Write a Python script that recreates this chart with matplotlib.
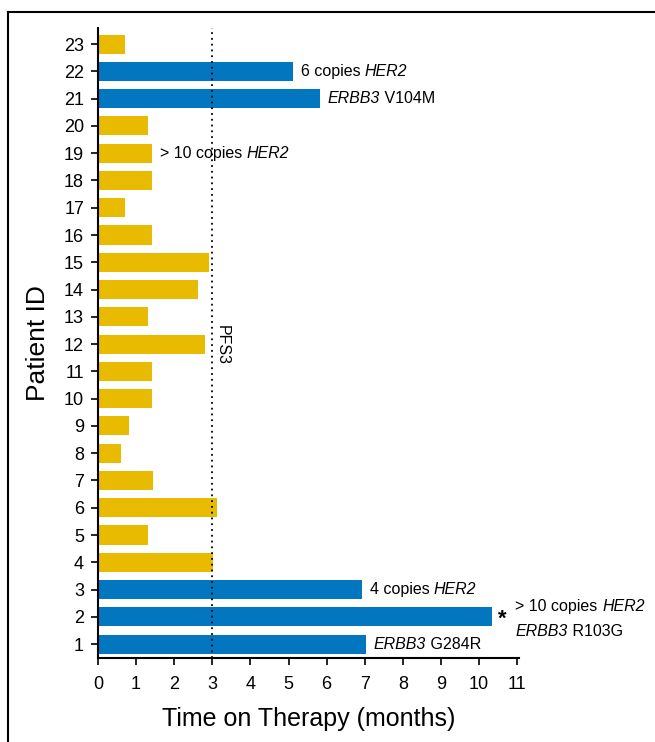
import matplotlib
matplotlib.use("Agg")
import matplotlib.pyplot as plt
from matplotlib.lines import Line2D
from matplotlib.transforms import offset_copy

plt.rcParams["font.family"] = ["Liberation Sans", "DejaVu Sans"]

patients = list(range(1, 24))
months = [7.03, 10.35, 6.93, 3.02, 1.31, 3.12, 1.44, 0.60, 0.81, 1.42, 1.42, 2.81,
          1.31, 2.62, 2.91, 1.42, 0.71, 1.42, 1.42, 1.31, 5.83, 5.12, 0.71]
her_group = [1, 2, 3, 21, 22]  # patients with HER2/ERBB3 alterations
BLUE = "#0277bf"
GOLD = "#e9bb00"
colors = [BLUE if p in her_group else GOLD for p in patients]

fig = plt.figure(figsize=(6.55, 7.42), dpi=100)
ax = fig.add_axes([0.1496, 0.1132, 0.643, 0.849])

ax.barh(patients, months, height=0.7, color=colors, zorder=2)
ax.axvline(3, color="black", linestyle=(0, (1, 2.2)), linewidth=1.3, zorder=3)
ax.text(3.26, 11.95, "PFS3", rotation=270, ha="center", va="center", fontsize=11.5)

ax.set_xlim(0, 11.05)
ax.set_ylim(0.49, 23.59)
ax.set_xticks(range(0, 12))
ax.set_yticks(patients)
ax.tick_params(axis="both", labelsize=13, length=5, width=1.2, colors="black")
ax.tick_params(axis="x", pad=8)
ax.tick_params(axis="y", pad=5)
for s in ["top", "right"]:
    ax.spines[s].set_visible(False)
for s in ["left", "bottom"]:
    ax.spines[s].set_linewidth(1.5)

ax.set_xlabel("Time on Therapy (months)", fontsize=18, labelpad=10)
ax.set_ylabel("Patient ID", fontsize=19, labelpad=10)

fig.canvas.draw()
renderer = fig.canvas.get_renderer()


def rich_label(x, y, pieces, fs=11.5):
    """Write consecutive text pieces, each with its own font style."""
    trans = ax.transData
    for txt, style in pieces:
        t = ax.text(x, y, txt, va="center", ha="left", fontsize=fs, fontstyle=style,
                    transform=trans, clip_on=False)
        w = t.get_window_extent(renderer=renderer).width
        trans = offset_copy(trans, fig=fig, x=w, y=0, units="dots")


off = 0.2
rich_label(months[21] + off, 22, [("6 copies ", "normal"), ("HER2", "italic")])
rich_label(months[20] + off, 21, [("ERBB3", "italic"), (" V104M", "normal")])
rich_label(months[18] + off, 19, [("> 10 copies ", "normal"), ("HER2", "italic")])
rich_label(months[2] + off, 3, [("4 copies ", "normal"), ("HER2", "italic")])
rich_label(months[0] + off, 1, [("ERBB3", "italic"), (" G284R", "normal")])
ax.text(months[1] + 0.15, 1.9, "*", va="center", fontsize=16, fontweight="bold")
rich_label(months[1] + 0.6, 2.37, [("> 10 copies ", "normal"), ("HER2", "italic")])
rich_label(months[1] + 0.6, 1.47, [("ERBB3", "italic"), (" R103G", "normal")])

# Panel frame (left and top edges)
fig.add_artist(Line2D([8 / 655, 8 / 655], [0, 1 - 12 / 742], color="black", linewidth=1.5))
fig.add_artist(Line2D([8 / 655, 1], [1 - 12 / 742, 1 - 12 / 742], color="black", linewidth=1.5))

fig.savefig("out.png", dpi=100)
